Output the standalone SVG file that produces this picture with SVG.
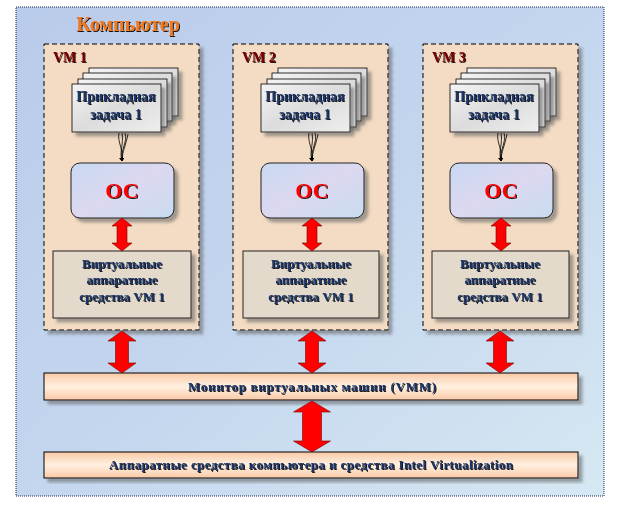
<svg xmlns="http://www.w3.org/2000/svg" width="624" height="510" viewBox="0 0 624 510">
<defs>
<linearGradient id="bg" x1="0" y1="0" x2="1" y2="1">
<stop offset="0" stop-color="#b9cbea"/>
<stop offset="0.5" stop-color="#c4d6ee"/>
<stop offset="1" stop-color="#d6e8f2"/>
</linearGradient>
<linearGradient id="bar" x1="0" y1="0" x2="0" y2="1">
<stop offset="0" stop-color="#f9c9a6"/>
<stop offset="0.5" stop-color="#fff0e0"/>
<stop offset="1" stop-color="#f9c9a6"/>
</linearGradient>
<linearGradient id="card" x1="0" y1="0" x2="1" y2="1">
<stop offset="0" stop-color="#f4f4f4"/>
<stop offset="0.5" stop-color="#dcdcdc"/>
<stop offset="1" stop-color="#eeeeee"/>
</linearGradient>
<linearGradient id="os" x1="0" y1="0" x2="1" y2="1">
<stop offset="0" stop-color="#c9d8f2"/>
<stop offset="0.5" stop-color="#dcd8f0"/>
<stop offset="1" stop-color="#c8dcf0"/>
</linearGradient>
<filter id="sh" x="-10%" y="-10%" width="130%" height="130%">
<feDropShadow dx="4" dy="4" stdDeviation="1.5" flood-color="#606060" flood-opacity="0.55"/>
</filter>
<filter id="ts" x="-5%" y="-20%" width="110%" height="150%">
<feDropShadow dx="1" dy="1" stdDeviation="0" flood-color="#000000" flood-opacity="0.9"/>
</filter>
<marker id="ah" viewBox="0 0 10 10" refX="9" refY="5" markerWidth="5" markerHeight="5" orient="auto">
<path d="M0,0 L10,5 L0,10 z" fill="#000"/>
</marker>
<style>
.txt{font-family:"Liberation Serif","Times New Roman",serif;font-weight:bold;text-anchor:middle;filter:url(#ts)}
.navy{fill:#1d3566;font-size:13px}
.vm{fill:#7a0000;font-size:14px;font-family:"Liberation Serif",serif;font-weight:bold;filter:url(#ts)}
.vmbox{fill:#f3dcc3;stroke:#000;stroke-width:1;stroke-dasharray:5 3;filter:url(#sh)}
.card{fill:url(#card);stroke:#000;stroke-width:0.8;filter:url(#sh)}
.osbox{fill:url(#os);stroke:#222;stroke-width:1;filter:url(#sh)}
.vh{fill:#e3dacb;stroke:#222;stroke-width:1;filter:url(#sh)}
.barr{fill:url(#bar);stroke:#000;stroke-width:1;filter:url(#sh)}
.red{fill:#ff0000;stroke:#700;stroke-width:0.6}
.thin{fill:none;stroke:#000;stroke-width:0.8}
</style>
</defs>
<rect width="624" height="510" fill="#fff"/>
<g id="computer">
<rect x="16" y="7" width="588" height="489" fill="url(#bg)" stroke="#1a2a55" stroke-width="1" stroke-dasharray="1 1"/>
<text x="128" y="31" class="txt" style="fill:#f07a20;font-size:20px">Компьютер</text>
</g>

<g id="vm1">
<rect x="44" y="44" width="155" height="286" class="vmbox"/>
<text x="53" y="62" class="vm">VM 1</text>
</g>
<g id="vm2">
<rect x="233" y="44" width="155" height="286" class="vmbox"/>
<text x="242" y="62" class="vm">VM 2</text>
</g>
<g id="vm3">
<rect x="423" y="44" width="155" height="286" class="vmbox"/>
<text x="432" y="62" class="vm">VM 3</text>
</g>

<g id="task1">
<rect x="89" y="68" width="89" height="48" class="card"/>
<rect x="83" y="73" width="89" height="48" class="card"/>
<rect x="78" y="79" width="89" height="48" class="card"/>
<rect x="72" y="84" width="89" height="48" class="card"/>
<text x="116" y="101" class="txt navy" style="font-size:14px">Прикладная</text>
<text x="116" y="119" class="txt navy" style="font-size:14px">задача 1</text>
</g>
<g id="task2">
<rect x="278" y="68" width="89" height="48" class="card"/>
<rect x="272" y="73" width="89" height="48" class="card"/>
<rect x="267" y="79" width="89" height="48" class="card"/>
<rect x="261" y="84" width="89" height="48" class="card"/>
<text x="305" y="101" class="txt navy" style="font-size:14px">Прикладная</text>
<text x="305" y="119" class="txt navy" style="font-size:14px">задача 1</text>
</g>
<g id="task3">
<rect x="467" y="68" width="89" height="48" class="card"/>
<rect x="461" y="73" width="89" height="48" class="card"/>
<rect x="456" y="79" width="89" height="48" class="card"/>
<rect x="450" y="84" width="89" height="48" class="card"/>
<text x="494" y="101" class="txt navy" style="font-size:14px">Прикладная</text>
<text x="494" y="119" class="txt navy" style="font-size:14px">задача 1</text>
</g>

<g id="os1">
<rect x="71" y="163" width="103" height="55" rx="9" class="osbox"/>
<text x="122" y="198" class="txt" style="fill:#ff0000;font-size:22px">ОС</text>
</g>
<g id="os2">
<rect x="261" y="163" width="103" height="55" rx="9" class="osbox"/>
<text x="312" y="198" class="txt" style="fill:#ff0000;font-size:22px">ОС</text>
</g>
<g id="os3">
<rect x="450" y="163" width="103" height="55" rx="9" class="osbox"/>
<text x="501" y="198" class="txt" style="fill:#ff0000;font-size:22px">ОС</text>
</g>

<g id="vh1">
<rect x="53" y="251" width="138" height="67" class="vh"/>
<text x="122" y="268" class="txt navy">Виртуальные</text>
<text x="122" y="284" class="txt navy">аппаратные</text>
<text x="122" y="301" class="txt navy">средства VM 1</text>
</g>
<g id="vh2">
<rect x="243" y="251" width="136" height="67" class="vh"/>
<text x="311" y="268" class="txt navy">Виртуальные</text>
<text x="311" y="284" class="txt navy">аппаратные</text>
<text x="311" y="301" class="txt navy">средства VM 1</text>
</g>
<g id="vh3">
<rect x="432" y="251" width="137" height="67" class="vh"/>
<text x="500" y="268" class="txt navy">Виртуальные</text>
<text x="500" y="284" class="txt navy">аппаратные</text>
<text x="500" y="301" class="txt navy">средства VM 1</text>
</g>

<g id="vmm">
<rect x="44" y="373" width="534" height="27" class="barr"/>
<text x="312" y="391" class="txt navy" textLength="248" lengthAdjust="spacing">Монитор виртуальных машин (VMM)</text>
</g>
<g id="hardware">
<rect x="44" y="452" width="534" height="26" class="barr"/>
<text x="311" y="469" class="txt navy" textLength="404" lengthAdjust="spacing">Аппаратные средства компьютера и средства Intel Virtualization</text>
</g>

<g id="connectors">
<path class="thin" d="M119,133 C117,142 124,150 122,161" marker-end="url(#ah)"/>
<path class="thin" d="M125,133 C128,142 120,150 122,161" marker-end="url(#ah)"/>
<path class="thin" d="M122,133 C124,144 119,151 122,161" marker-end="url(#ah)"/>
<path class="thin" d="M128,134 C126,145 122,152 122,161"/>
<path class="thin" d="M309,133 C307,142 314,150 312,161" marker-end="url(#ah)"/>
<path class="thin" d="M315,133 C318,142 310,150 312,161" marker-end="url(#ah)"/>
<path class="thin" d="M312,133 C314,144 309,151 312,161" marker-end="url(#ah)"/>
<path class="thin" d="M318,134 C316,145 312,152 312,161"/>
<path class="thin" d="M498,133 C496,142 503,150 501,161" marker-end="url(#ah)"/>
<path class="thin" d="M504,133 C507,142 499,150 501,161" marker-end="url(#ah)"/>
<path class="thin" d="M501,133 C503,144 498,151 501,161" marker-end="url(#ah)"/>
<path class="thin" d="M507,134 C505,145 501,152 501,161"/>

<polygon class="red" points="122,218 132,226 127,226 127,243 132,243 122,251 112,243 117,243 117,226 112,226"/>
<polygon class="red" points="312,218 322,226 317,226 317,243 322,243 312,251 302,243 307,243 307,226 302,226"/>
<polygon class="red" points="501,218 511,226 506,226 506,243 511,243 501,251 491,243 496,243 496,226 491,226"/>

<polygon class="red" points="122,331 136,341 128.5,341 128.5,363 136,363 122,373 108,363 115.5,363 115.5,341 108,341"/>
<polygon class="red" points="312,331 326,341 318.5,341 318.5,363 326,363 312,373 298,363 305.5,363 305.5,341 298,341"/>
<polygon class="red" points="500,331 514,341 506.5,341 506.5,363 514,363 500,373 486,363 493.5,363 493.5,341 486,341"/>

<polygon class="red" points="312,401 330.5,412 321.5,412 321.5,441 330.5,441 312,452 293.5,441 302.5,441 302.5,412 293.5,412"/>
</g>
</svg>
